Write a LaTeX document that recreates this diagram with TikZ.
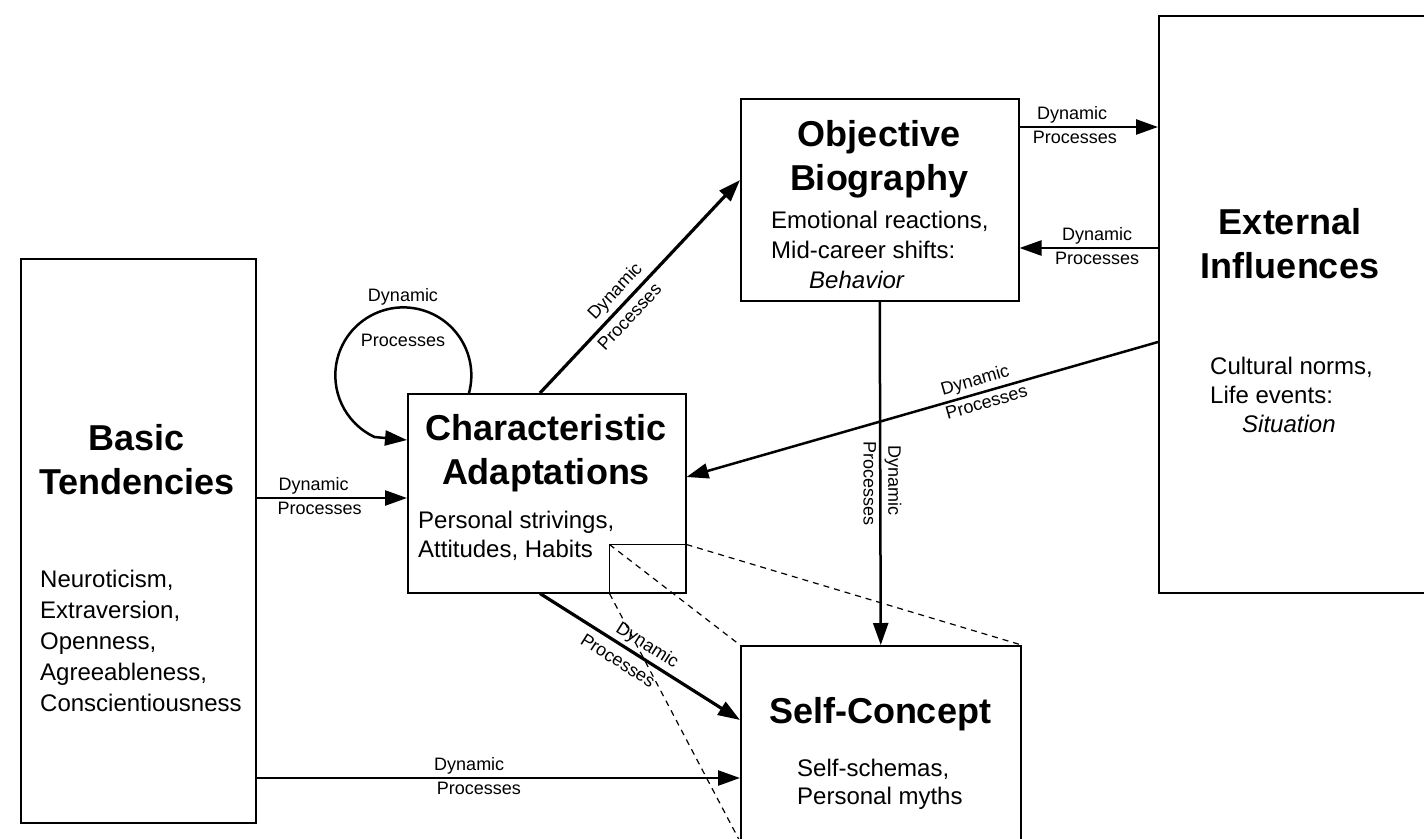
\documentclass[tikz,border=0pt]{standalone}
\usepackage{fontspec}
\setmainfont{Liberation Sans}
\usetikzlibrary{arrows.meta}
\usetikzlibrary{calc}

\begin{document}
\begin{tikzpicture}[x=1pt,y=-1pt,>={Triangle[length=22pt,width=15pt]},
box/.style={draw,line width=1.5pt,inner sep=0pt,anchor=north west},
heading/.style={font=\fontsize{36}{44}\selectfont\bfseries,align=center,inner sep=0pt},
detail/.style={font=\fontsize{24}{30}\selectfont,align=left,inner sep=0pt,anchor=north west},
proc/.style={font=\fontsize{18}{20}\selectfont,inner sep=3pt},
flow/.style={->,line width=2.5pt},
zoomline/.style={line width=1.2pt,dash pattern=on 6pt off 5pt}]
\useasboundingbox (0,0) rectangle (1424,838);
\fill[white] (0,0) rectangle (1424,838);

\node[box,minimum width=235pt,minimum height=564pt] (bt) at (20,258) {};
\node[heading] at (137,460) {Basic\\Tendencies};
\node[detail,font=\fontsize{24}{31}\selectfont] at (40,570) {Neuroticism,\\Extraversion,\\Openness,\\Agreeableness,\\Conscientiousness};

\node[box,minimum width=278pt,minimum height=199pt] (ca) at (407,393) {};
\node[heading] at (546,453) {Characteristic\\Adaptations};
\node[detail,font=\fontsize{24}{29}\selectfont] at (418,511) {Personal strivings,\\Attitudes, Habits};

\node[box,minimum width=278pt,minimum height=202pt] (ob) at (740,98) {};
\node[heading] at (879,159) {Objective\\Biography};
\node[detail] at (771,211) {Emotional reactions,\\Mid-career shifts:\\\hspace*{38pt}\textit{Behavior}};

\node[box,minimum width=300pt,minimum height=577pt] (ei) at (1158,15) {};
\node[heading] at (1290,244) {External\\Influences};
\node[detail,font=\fontsize{24}{29}\selectfont] at (1210,357) {Cultural norms,\\Life events:\\\hspace*{32pt}\textit{Situation}};

\node[box,minimum width=280pt,minimum height=195pt] (sc) at (740,645) {};
\node[heading] at (880,714) {Self-Concept};
\node[detail,font=\fontsize{24}{28}\selectfont] at (797,759) {Self-schemas,\\Personal myths};

\coordinate (ca-in) at ([yshift=-105pt]ca.north west);
\coordinate (sc-in) at ([yshift=-133pt]sc.north west);
\coordinate (ca-top) at ([xshift=133pt]ca.north west);
\coordinate (ob-in) at ([yshift=-82pt]ob.north west);
\coordinate (ca-bot) at ([xshift=133pt]ca.south west);
\coordinate (sc-side) at ([yshift=-75pt]sc.north west);
\coordinate (ob-out) at ([yshift=-29pt]ob.north east);
\coordinate (ob-back) at ([yshift=-150pt]ob.north east);
\coordinate (ei-out) at ([yshift=-327pt]ei.north west);
\coordinate (ca-side) at ([yshift=-84pt]ca.north east);
\coordinate (loop) at ([xshift=-4pt,yshift=18pt]ca.north west);
\coordinate (mag) at ([xshift=-77pt,yshift=49pt]ca.south east);

\path[flow] (bt.east |- ca-in) edge node[proc,above,pos=0.38] {Dynamic} node[proc,below,pos=0.42] {Processes} (ca-in);
\path[flow] (bt.east |- sc-in) edge node[proc,above,pos=0.44] {Dynamic} node[proc,below,pos=0.46] {Processes} (sc-in);
\path[flow,line width=3.2pt] (ca-top) edge node[proc,sloped,above,pos=0.43,inner sep=4pt] {Dynamic} node[proc,sloped,below,pos=0.40,inner sep=5pt] {Processes} (ob-in);
\path[flow,line width=3.2pt] (ca-bot) edge node[proc,sloped,above,pos=0.5,inner sep=3pt] {Dynamic} node[proc,sloped,below,pos=0.43,inner sep=7pt] {Processes} (sc-side);
\path[flow] (ob-out) edge node[proc,above,pos=0.38] {Dynamic} node[proc,below,pos=0.4] {Processes} (ob-out -| ei.west);
\path[flow] (ob-back -| ei.west) edge node[proc,above,pos=0.44] {Dynamic} node[proc,below,pos=0.44] {Processes} (ob-back);
\path[flow] (ei-out) edge node[proc,sloped,above,pos=0.38] {Dynamic} node[proc,sloped,below,pos=0.37] {Processes} (ca-side);
\path[flow] (ob.south) edge node[proc,rotate=-90,above,pos=0.52] {Dynamic} node[proc,rotate=-90,below,pos=0.53] {Processes} (sc.north);

\draw[flow] ([xshift=62pt]ca.north west) arc[start angle=-15,end angle=245,radius=68pt] -- ([yshift=-47pt]ca.north west);
\node[proc] at ([yshift=78pt]loop) {Dynamic};
\node[proc] at ([yshift=35pt]loop) {Processes};

\draw[line width=1.2pt] (mag) rectangle (ca.south east);
\draw[zoomline] (mag) -- (sc.north west);
\draw[zoomline] (mag -| ca.south east) -- (sc.north east);
\draw[zoomline] (mag |- ca.south east) -- (sc.south west);
\end{tikzpicture}
\end{document}
